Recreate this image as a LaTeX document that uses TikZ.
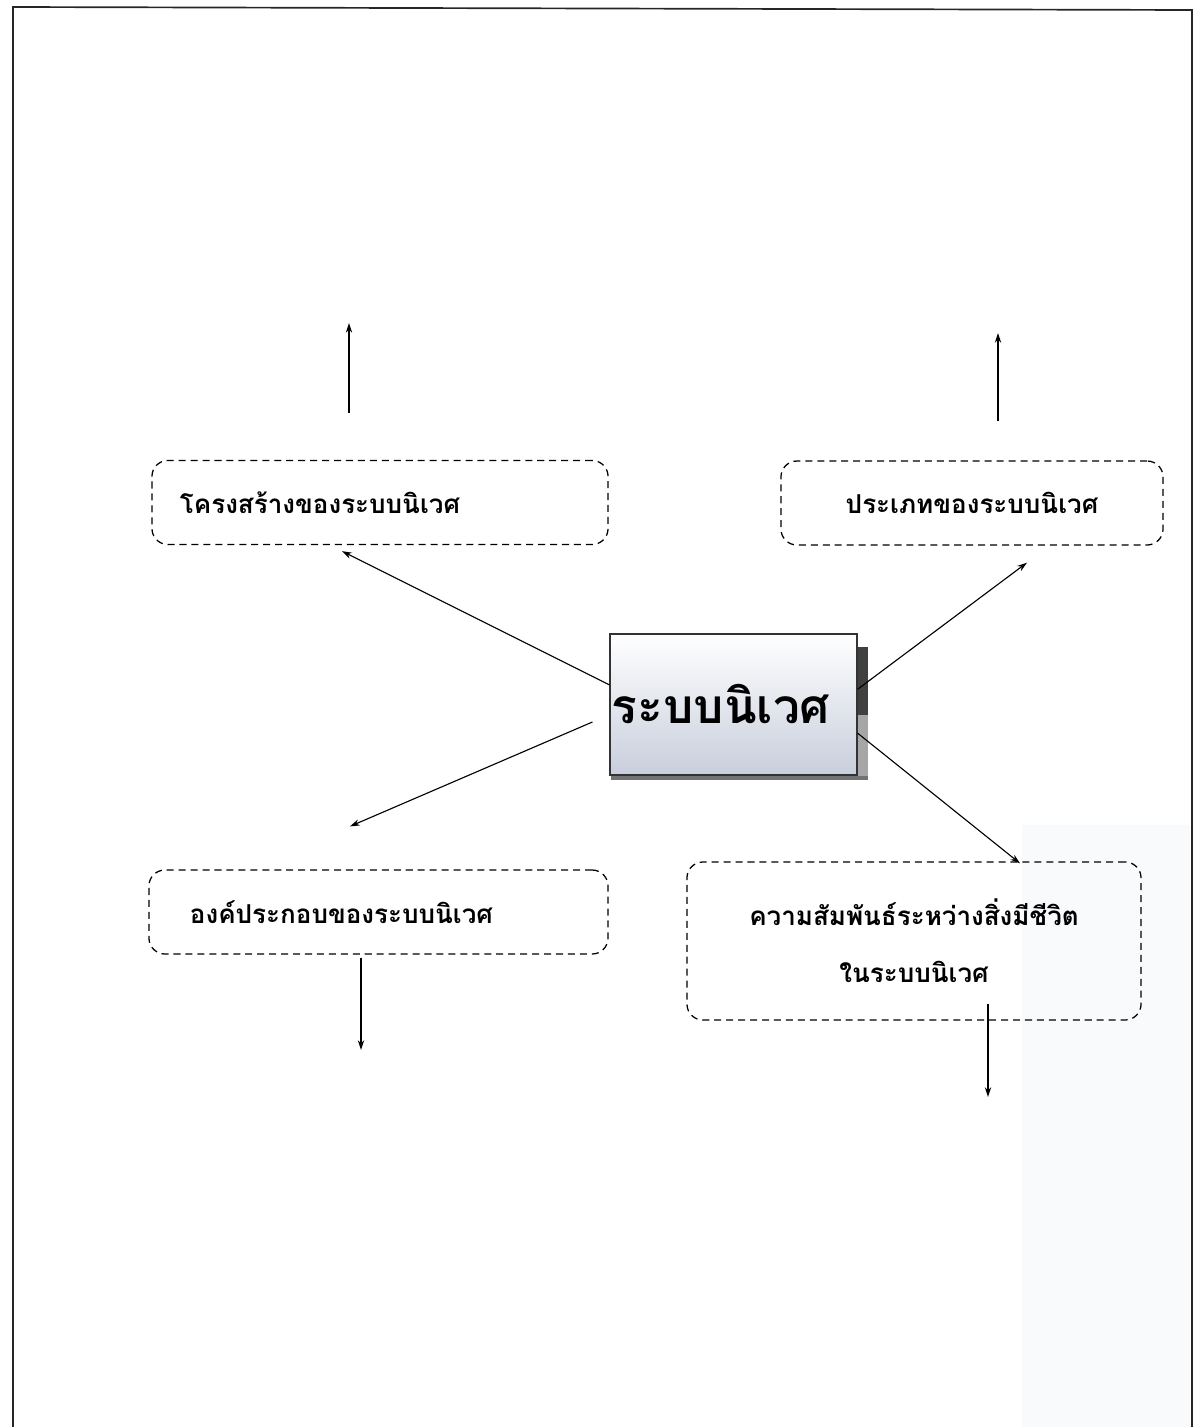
\documentclass[tikz,border=0pt]{standalone}
\usepackage{fontspec}
\newfontfamily\thaifont[Script=Thai]{Loma}
\usetikzlibrary{arrows.meta, positioning, calc}
\definecolor{hubmid}{RGB}{226,229,237}
\definecolor{hubbot}{RGB}{200,206,220}
\definecolor{scanfog}{RGB}{248,250,252}
\tikzset{
    topic/.style={draw, dash pattern=on 5pt off 3.5pt, line width=0.9pt, rounded corners=0.4cm,
        font=\thaifont\bfseries\fontsize{18.5}{40.5}\selectfont, minimum height=2.1cm, inner xsep=0pt},
    hub/.style={draw=black!80, line width=0.8pt, top color=white, middle color=hubmid, bottom color=hubbot,
        minimum width=6.175cm, minimum height=3.525cm, text width=6.075cm, inner xsep=0.05cm, align=left,
        font=\thaifont\bfseries\fontsize{34}{40}\selectfont},
    link/.style={-{Stealth[length=7pt,width=4.5pt]}, line width=0.8pt},
    frame/.style={line width=1.2pt, black!85}
}
\begin{document}
\begin{tikzpicture}[x=0.025cm, y=-0.025cm]
    \useasboundingbox (0,0) rectangle (1199,1427);
    % page frame and scan shade
    \fill[scanfog] (1022,825) rectangle (1190,1427);
    \draw[frame] (13,1427) -- (13,7) -- (1192,10) -- (1192,1427);
    % central topic
    \node[hub] (eco) at (733.5,704.5) {ระบบนิเวศ};
    \fill[black!75] ($(eco.north east)+(0,14)$) rectangle ($(eco.north east)+(10,82)$);
    \fill[black!35] ($(eco.north east)+(0,82)$) rectangle ($(eco.south east)+(10,3)$);
    \fill[black!55] ($(eco.south west)+(2,0)$) rectangle ($(eco.south east)+(10,4)$);
    % sub topics
    \node[topic, minimum width=11.4cm, text width=10cm, align=left] (tl) at (380,502.5) {โครงสร้างของระบบนิเวศ};
    \node[topic, minimum width=9.55cm, align=center] (tr) at (972,503) {ประเภทของระบบนิเวศ};
    \node[topic, minimum width=11.475cm, text width=9.425cm, align=left] (bl) at (378.5,912) {องค์ประกอบของระบบนิเวศ};
    \node[topic, minimum width=11.35cm, minimum height=3.95cm, align=center] (br) at (914,941) {ความสัมพันธ์ระหว่างสิ่งมีชีวิต\\ในระบบนิเวศ};
    % free ends
    \coordinate (tlout) at (349,323);
    \coordinate (trout) at (998,333);
    \coordinate (blout) at (361,1050);
    \coordinate (brout) at (988,1097);
    % arrows from the centre
    \draw[link] (eco.171) -- ($(tl.south)+(-38,6)$);
    \draw[link] (eco.7) -- ($(tr.south)+(55,17)$);
    \draw[link] ($(eco.west)+(-17,17.5)$) -- ($(bl.north)+(-28.5,-43)$);
    \draw[link] (eco.-13) -- ($(br.north)+(106,2)$);
    % arrows leading on
    \draw[link] ($(tl.north)+(-31,-47)$) -- (tlout);
    \draw[link] ($(tr.north)+(26,-39)$) -- (trout);
    \draw[link] ($(bl.south)+(-17.5,3)$) -- (blout);
    \draw[link] ($(br.south)+(74,-17)$) -- (brout);
\end{tikzpicture}
\end{document}
